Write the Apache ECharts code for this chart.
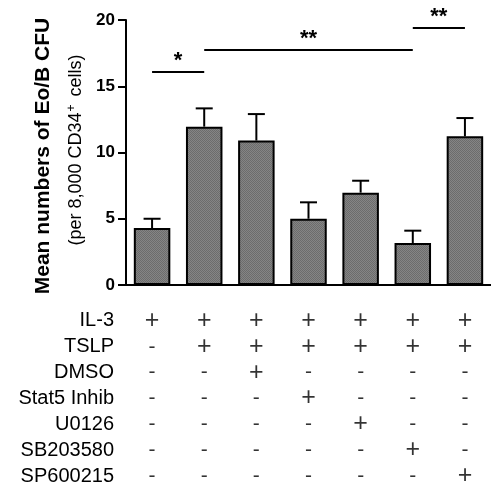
<!DOCTYPE html>
<html>
<head>
<meta charset="utf-8">
<script src="https://cdn.jsdelivr.net/npm/echarts@6/dist/echarts.min.js"></script>
<style>
  html, body { margin: 0; padding: 0; background: #fff; }
  #chart { width: 491px; height: 489px; }
</style>
</head>
<body>
<div id="chart"></div>
<script>
const groups = ['G1', 'G2', 'G3', 'G4', 'G5', 'G6', 'G7'];
const means = [4.3, 11.95, 10.9, 5.0, 6.97, 3.17, 11.22];
const sems = [0.7, 1.38, 2.0, 1.24, 0.9, 0.93, 1.38];

const sigFrom = [0, 1, 5];
const sigTo = [1, 5, 6];
const sigLevel = [16.1, 17.75, 19.4];
const sigText = ['*', '**', '**'];

const rowNames = ['IL-3', 'TSLP', 'DMSO', 'Stat5 Inhib', 'U0126', 'SB203580', 'SP600215'];
const treatment = [
  ['+', '+', '+', '+', '+', '+', '+'],
  ['-', '+', '+', '+', '+', '+', '+'],
  ['-', '-', '+', '-', '-', '-', '-'],
  ['-', '-', '-', '+', '-', '-', '-'],
  ['-', '-', '-', '-', '+', '-', '-'],
  ['-', '-', '-', '-', '-', '+', '-'],
  ['-', '-', '-', '-', '-', '-', '+']
];

const font = 'Liberation Sans, Arial, sans-serif';

// dithered grey fill like the printed figure
function makeFill() {
  const c = document.createElement('canvas');
  c.width = 2;
  c.height = 2;
  const ctx = c.getContext('2d');
  ctx.fillStyle = '#858585';
  ctx.fillRect(0, 0, 2, 2);
  ctx.fillStyle = '#6c6c6c';
  ctx.fillRect(0, 0, 1, 1);
  ctx.fillRect(1, 1, 1, 1);
  return c;
}

const tableData = [];
treatment.forEach((row, r) => {
  row.forEach((sign, col) => {
    tableData.push([col, r, sign]);
  });
});

const chart = echarts.init(document.getElementById('chart'));

chart.setOption({
  animation: false,
  backgroundColor: '#fff',
  grid: [
    { left: 126, right: -5, top: 20, bottom: 204 },
    { left: 126, right: -5, top: 308, bottom: -6 }
  ],
  xAxis: [
    {
      type: 'category',
      gridIndex: 0,
      data: groups,
      axisLine: { lineStyle: { color: '#000', width: 2 } },
      axisTick: { alignWithLabel: true, length: 7, lineStyle: { color: '#000', width: 2 } },
      axisLabel: { show: false }
    },
    {
      type: 'category',
      gridIndex: 1,
      data: groups,
      show: false
    }
  ],
  yAxis: [
    {
      type: 'value',
      gridIndex: 0,
      min: 0,
      max: 20,
      interval: 5,
      axisLine: { show: true, lineStyle: { color: '#000', width: 2 } },
      axisTick: { show: true, length: 8, lineStyle: { color: '#000', width: 2 } },
      axisLabel: { color: '#000', fontSize: 17, fontWeight: 'bold', fontFamily: font, margin: 11 },
      splitLine: { show: false }
    },
    {
      type: 'category',
      gridIndex: 1,
      data: rowNames,
      inverse: true,
      axisLine: { show: false },
      axisTick: { show: false },
      axisLabel: { color: '#000', fontSize: 20, fontFamily: font, margin: 12, interval: 0 },
      splitLine: { show: false }
    }
  ],
  graphic: [
    {
      type: 'text',
      x: 43,
      y: 156,
      rotation: Math.PI / 2,
      style: {
        text: 'Mean numbers of Eo/B CFU',
        font: 'bold 21px ' + font,
        fill: '#000',
        align: 'center',
        verticalAlign: 'middle'
      }
    },
    {
      type: 'text',
      x: 76,
      y: 150,
      rotation: Math.PI / 2,
      style: {
        text: '(per 8,000 CD34{sup|+} cells)',
        font: '18px ' + font,
        fill: '#000',
        align: 'center',
        verticalAlign: 'middle',
        rich: {
          sup: { fontSize: 12, fontFamily: font, verticalAlign: 'top', padding: [0, 3, 8, 1] }
        }
      }
    }
  ],
  series: [
    {
      type: 'bar',
      xAxisIndex: 0,
      yAxisIndex: 0,
      data: means,
      barWidth: '70%',
      itemStyle: {
        color: { image: makeFill(), repeat: 'repeat' },
        borderColor: '#000',
        borderWidth: 2
      },
      markLine: {
        symbol: 'none',
        silent: true,
        lineStyle: { color: '#000', width: 2, type: 'solid' },
        label: {
          position: 'middle',
          distance: 0,
          color: '#000',
          fontSize: 22,
          fontWeight: 'bold',
          fontFamily: font,
          formatter: (p) => p.name
        },
        data: sigFrom.map((from, i) => [
          { coord: [from, sigLevel[i]], name: sigText[i] },
          { coord: [sigTo[i], sigLevel[i]] }
        ])
      }
    },
    {
      type: 'custom',
      xAxisIndex: 0,
      yAxisIndex: 0,
      z: 3,
      data: means.map((m, i) => [i, m, m + sems[i]]),
      renderItem: (params, api) => {
        const base = api.coord([api.value(0), api.value(1)]);
        const top = api.coord([api.value(0), api.value(2)]);
        const half = 8.5;
        const style = { stroke: '#000', lineWidth: 2 };
        return {
          type: 'group',
          children: [
            { type: 'line', shape: { x1: base[0], y1: base[1], x2: top[0], y2: top[1] }, style },
            { type: 'line', shape: { x1: top[0] - half, y1: top[1], x2: top[0] + half, y2: top[1] }, style }
          ]
        };
      }
    },
    {
      type: 'scatter',
      xAxisIndex: 1,
      yAxisIndex: 1,
      symbolSize: 1,
      itemStyle: { color: 'rgba(0,0,0,0)' },
      data: tableData,
      label: {
        show: true,
        position: 'inside',
        color: '#000',
        fontFamily: font,
        formatter: (p) => (p.value[2] === '+' ? '{plus|+}' : '{minus|-}'),
        rich: {
          plus: { fontSize: 25, fontFamily: font, color: '#000' },
          minus: { fontSize: 21, fontFamily: font, color: '#000' }
        }
      }
    }
  ]
});

window.addEventListener('resize', () => {
  chart.resize();
});
</script>
</body>
</html>
